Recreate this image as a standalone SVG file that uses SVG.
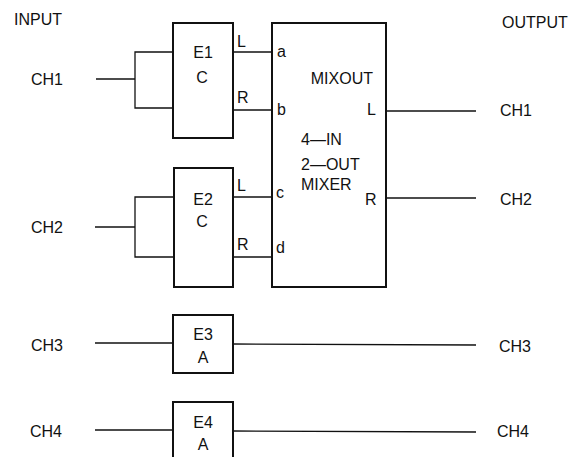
<svg xmlns="http://www.w3.org/2000/svg" width="586" height="457" viewBox="0 0 586 457">
<style>
text{font-family:"Liberation Sans",Arial,sans-serif;font-size:16px;fill:#111}
.box{fill:#fff;stroke:#111;stroke-width:2}
.ln{fill:none;stroke:#111;stroke-width:1.3}
.c{text-anchor:middle}
</style>
<rect width="586" height="457" fill="#fff"/>
<g id="labels">
<text x="14" y="25">INPUT</text>
<text x="502" y="28">OUTPUT</text>
<text x="31" y="85">CH1</text>
<text x="31" y="233">CH2</text>
<text x="31" y="351">CH3</text>
<text x="30" y="437">CH4</text>
<text x="500" y="116">CH1</text>
<text x="500" y="205">CH2</text>
<text x="499" y="352">CH3</text>
<text x="497" y="437">CH4</text>
</g>
<g id="connectors">
<polyline class="ln" points="96,79 135,79"/>
<polyline class="ln" points="174,52 135,52 135,108 174,108"/>
<polyline class="ln" points="233,52 272,52"/>
<polyline class="ln" points="233,110 272,110"/>
<polyline class="ln" points="95,227 135,227"/>
<polyline class="ln" points="174,197 135,197 135,257 174,257"/>
<polyline class="ln" points="233,197 272,197"/>
<polyline class="ln" points="233,257 272,257"/>
<polyline class="ln" points="386,111 476,111"/>
<polyline class="ln" points="386,198 476,198"/>
<polyline class="ln" points="95,343 173,343"/>
<polyline class="ln" points="233,344 476,345"/>
<polyline class="ln" points="95,430 173,430"/>
<polyline class="ln" points="233,431 476,432"/>
</g>
<g id="E1">
<rect class="box" x="173" y="23" width="60" height="115"/>
<text class="c" x="203" y="58">E1</text>
<text class="c" x="202" y="83">C</text>
<text x="237" y="47">L</text>
<text x="237" y="103">R</text>
</g>
<g id="E2">
<rect class="box" x="174" y="168" width="59" height="119"/>
<text class="c" x="203" y="205">E2</text>
<text class="c" x="202" y="227">C</text>
<text x="237" y="191">L</text>
<text x="237" y="250">R</text>
</g>
<g id="MIXOUT">
<rect class="box" x="272" y="23" width="114" height="264"/>
<text x="277" y="57">a</text>
<text x="277" y="115">b</text>
<text x="276" y="198">c</text>
<text x="276" y="253">d</text>
<text x="373" y="84" text-anchor="end">MIXOUT</text>
<text x="367" y="115">L</text>
<text x="301" y="145">4—IN</text>
<text x="301" y="170">2—OUT</text>
<text x="301" y="190">MIXER</text>
<text x="365" y="205">R</text>
</g>
<g id="E3">
<rect class="box" x="173" y="315" width="60" height="58"/>
<text class="c" x="203" y="340">E3</text>
<text class="c" x="203" y="363">A</text>
</g>
<g id="E4">
<rect class="box" x="173" y="402" width="60" height="70"/>
<text class="c" x="203" y="428">E4</text>
<text class="c" x="203" y="450">A</text>
</g>
</svg>
